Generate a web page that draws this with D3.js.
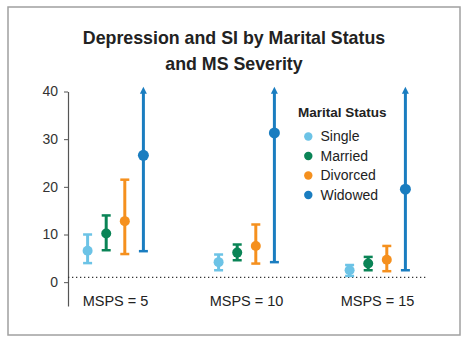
<!DOCTYPE html>
<html><head><meta charset="utf-8">
<script src="https://cdn.jsdelivr.net/npm/d3@7"></script>
<style>
html,body{margin:0;padding:0;background:#fff;}
svg{display:block;font-family:"Liberation Sans",Arial,sans-serif;}
</style></head>
<body><svg id="c" width="468" height="343"></svg>
<script>
const groups = ["MSPS = 5", "MSPS = 10", "MSPS = 15"];
const series = ["Single", "Married", "Divorced", "Widowed"];
const colors = ["#6cc3e6", "#0a8456", "#f5901e", "#1a7dc0"];
// point estimates per series, across groups
const est   = [[6.6, 4.2, 2.5], [10.2, 6.2, 3.9], [12.8, 7.6, 4.7], [26.6, 31.3, 19.5]];
const lower = [[4.0, 2.5, 1.3], [6.7, 4.6, 2.5], [5.9, 3.9, 2.3], [6.5, 4.2, 2.5]];
const upper = [[10.0, 5.8, 3.6], [14.0, 7.9, 5.3], [21.5, 12.1, 7.6], [41, 41, 41]];
const truncated = [false, false, false, true];
const yTicks = [0, 10, 20, 30, 40];
const refValue = 1;
const title = ["Depression and SI by Marital Status", "and MS Severity"];
const legendTitle = "Marital Status";

const svg = d3.select("#c");
svg.append("rect").attr("x", 8).attr("y", 7).attr("width", 452).attr("height", 328)
  .attr("fill", "#fff").attr("stroke", "#a0a0a0").attr("stroke-width", 1.5);

const y = d3.scaleLinear().domain([-5, 40]).range([306, 91.5]);
const x = d3.scaleBand().domain(groups).range([50, 443]);
const xs = d3.scalePoint().domain(series).range([-27.9, 27.9]);
const color = d3.scaleOrdinal().domain(series).range(colors);

// title
svg.append("g").selectAll("text").data(title).join("text")
  .attr("x", 234).attr("y", (d, i) => 44 + i * 26)
  .attr("text-anchor", "middle").attr("font-weight", "bold").attr("font-size", 17.8)
  .attr("fill", "#222").text(d => d);

// y axis
const ax = svg.append("g").attr("transform", "translate(68,0)")
  .call(d3.axisLeft(y).tickValues(yTicks).tickSize(4).tickPadding(6).tickSizeOuter(0));
ax.select(".domain").attr("stroke", "#555").attr("stroke-width", 1.2);
ax.selectAll(".tick line").attr("stroke", "#555");
ax.selectAll(".tick text").attr("font-size", 14).attr("fill", "#333")
  .attr("font-family", "'Liberation Sans',Arial,sans-serif");

// reference dotted line
svg.append("line").attr("x1", 68).attr("x2", 427).attr("y1", y(refValue)).attr("y2", y(refValue))
  .attr("stroke", "#333").attr("stroke-width", 1.3).attr("stroke-dasharray", "1.3,2.7");

// group labels
svg.append("g").selectAll("text").data(groups).join("text")
  .attr("x", d => x(d) + x.bandwidth() / 2).attr("y", 305.5)
  .attr("text-anchor", "middle").attr("font-size", 14.5).attr("fill", "#222").text(d => d);

// error bars
const rows = [];
series.forEach((s, si) => groups.forEach((g, gi) => rows.push({
  s, g, v: est[si][gi], lo: lower[si][gi], hi: upper[si][gi], trunc: truncated[si]
})));
const cx = d => x(d.g) + x.bandwidth() / 2 + xs(d.s);
const marks = svg.append("g").selectAll("g").data(rows).join("g")
  .attr("fill", d => color(d.s)).attr("stroke", d => color(d.s));
marks.append("line").attr("x1", cx).attr("x2", cx)
  .attr("y1", d => y(d.lo)).attr("y2", d => d.trunc ? y(d.hi) + 5 : y(d.hi))
  .attr("stroke-width", 3);
marks.append("line").attr("x1", d => cx(d) - 4.5).attr("x2", d => cx(d) + 4.5)
  .attr("y1", d => y(d.lo)).attr("y2", d => y(d.lo)).attr("stroke-width", 2.5);
marks.filter(d => !d.trunc).append("line").attr("x1", d => cx(d) - 4.5).attr("x2", d => cx(d) + 4.5)
  .attr("y1", d => y(d.hi)).attr("y2", d => y(d.hi)).attr("stroke-width", 2.5);
marks.filter(d => d.trunc).append("path").attr("stroke", "none")
  .attr("d", d => `M${cx(d) - 3.5},${y(d.hi) + 7} L${cx(d)},${y(d.hi)} L${cx(d) + 3.5},${y(d.hi) + 7} Z`);
marks.append("circle").attr("cx", cx).attr("cy", d => y(d.v))
  .attr("r", d => d.trunc ? 5.5 : 5).attr("stroke", "none");

// legend
const lg = svg.append("g");
lg.append("text").attr("x", 298).attr("y", 116.5).attr("font-weight", "bold")
  .attr("font-size", 13.5).attr("fill", "#222").text(legendTitle);
const li = lg.selectAll("g.it").data(series).join("g").attr("class", "it")
  .attr("transform", (d, i) => `translate(0,${i * 19.5})`);
li.append("circle").attr("cx", 308.3).attr("cy", 136.5).attr("r", 4.2).attr("fill", d => color(d));
li.append("text").attr("x", 320.5).attr("y", 141).attr("font-size", 14).attr("fill", "#222").text(d => d);
</script></body></html>
